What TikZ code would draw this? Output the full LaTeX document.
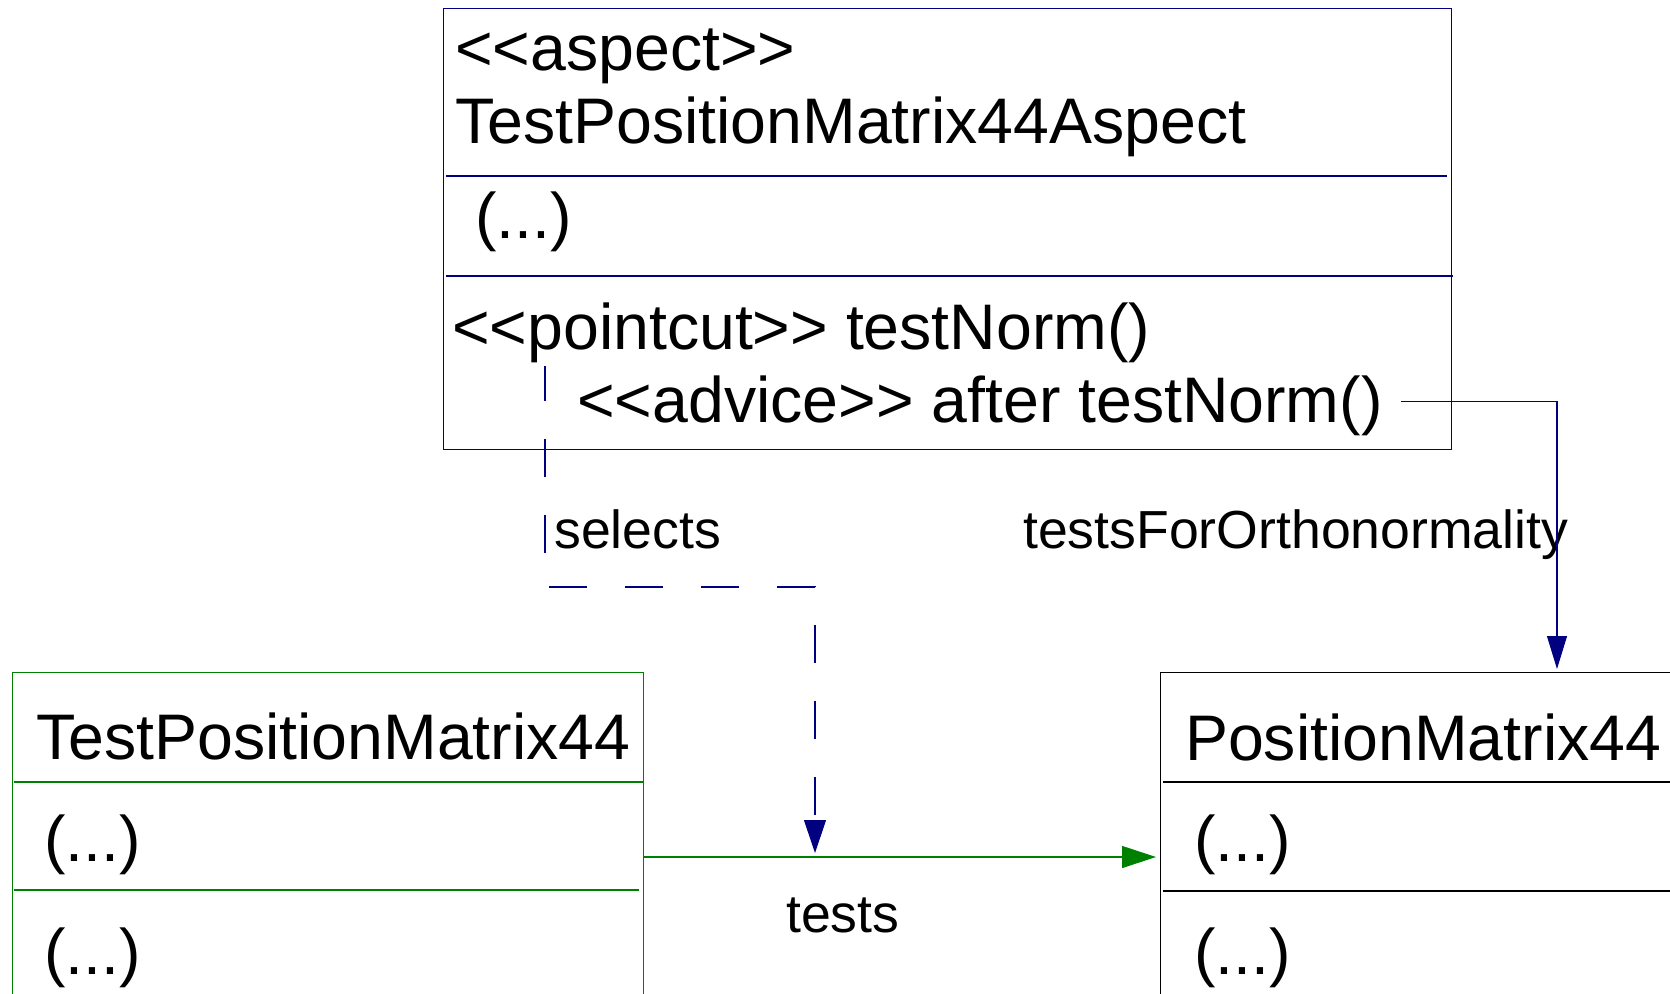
\documentclass[tikz,border=0pt]{standalone}
\usepackage{fontspec}
\setmainfont{Liberation Sans}[Ligatures=TeXOff]
\usetikzlibrary{arrows.meta,calc}
\definecolor{umlnavy}{RGB}{0,0,128}
\definecolor{umlgreen}{RGB}{0,128,0}

\begin{document}
\begin{tikzpicture}[x=1pt,y=-1pt,
  boxtext/.style={anchor=base west, inner sep=0pt, font=\fontsize{64.4}{78}\selectfont},
  labeltext/.style={anchor=base west, inner sep=0pt, font=\fontsize{53.6}{64}\selectfont},
  classframe/.style={draw=#1, line width=1.1pt, anchor=north west, inner sep=0pt, rectangle},
  divider/.style={line width=1.1pt},
  link/.style={line width=1.1pt},
]
\useasboundingbox (0,0) rectangle (1670,993);
\clip (0,0) rectangle (1670,993);

% class frames
\node[classframe=umlnavy, minimum width=1008pt, minimum height=441pt] (aspectbox) at (442.5,7.5) {};
\node[classframe=umlgreen, minimum width=631pt, minimum height=400pt] (testbox) at (12,672) {};
\node[classframe=black, minimum width=600pt, minimum height=400pt] (posbox) at (1160,672) {};

% compartment separators
\draw[divider, umlnavy] (446,176) -- (1447,176);
\draw[divider, umlnavy] (446,276) -- (1453,276);
\draw[divider, umlgreen] (14,782) -- (643,782);
\draw[divider, umlgreen] (14,890) -- (639,890);
\draw[divider] (1163,782) -- (1670,782);
\draw[divider] (1163,891) -- (1670,891);

% compartment texts
\node[boxtext] (stereo) at (455,70) {<<aspect>>};
\node[boxtext] (aspectname) at (455,143) {TestPositionMatrix44Aspect};
\node[boxtext] (aspectattr) at (475,238) {(...)};
\node[boxtext] (pointcut) at (452,349) {<<pointcut>> testNorm()};
\node[boxtext] (advice) at (577,422) {<<advice>> after testNorm()};
\node[boxtext] (testname) at (36,759) {TestPositionMatrix44};
\node[boxtext] (testattr) at (44,861) {(...)};
\node[boxtext] (testops) at (44,974) {(...)};
\node[boxtext] (posname) at (1185,760) {PositionMatrix44};
\node[boxtext] (posattr) at (1194,861) {(...)};
\node[boxtext] (posops) at (1194,974) {(...)};

% connector labels
\node[labeltext] (selectslabel) at (554,548) {selects};
\node[labeltext] (orthlabel) at (1023,548) {testsForOrthonormality};
\node[labeltext] (testslabel) at (786,932) {tests};

% tests
\draw[link, umlgreen, -{Triangle[length=34pt,width=22pt]}, shorten >=4pt]
  ($(testbox.north east)+(0,185)$) coordinate (testsout) -- ($(posbox.north west)+(0,185)$);

% selects
\coordinate (selstart) at (545,366);
\coordinate (selbend) at (545,587);
\coordinate (selcorner) at (815,587);
\coordinate (selhit) at (815,857);
\draw[link, umlnavy, dash pattern=on 38pt off 38pt, dash phase=3pt, -{Triangle[length=33pt,width=22pt]}, shorten >=4pt]
  (selstart) -- (selbend) -- (selcorner) -- (selhit);

% testsForOrthonormality
\coordinate (advout) at (1401,401.3);
\coordinate (advbend) at (1557,401.3);
\draw[link, umlnavy, -{Triangle[length=33pt,width=20pt]}, shorten >=3pt]
  (advout) -- (advbend) -- (advbend |- posbox.north);
\end{tikzpicture}
\end{document}
